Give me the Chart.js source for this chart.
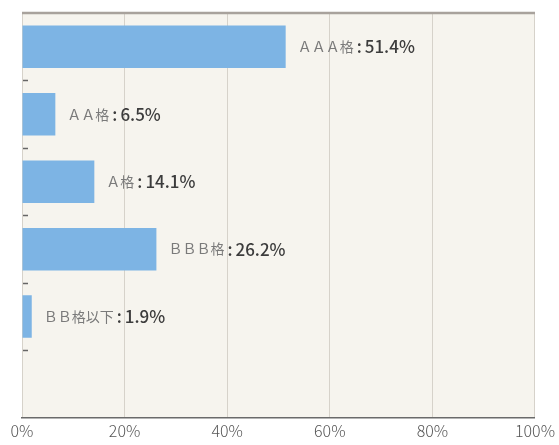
<!DOCTYPE html>
<html>
<head>
<meta charset="utf-8">
<script src="https://cdn.jsdelivr.net/npm/chart.js@4"></script>
<style>
  html, body { margin: 0; padding: 0; background: #fff; }
  #wrap { width: 559px; height: 445px; }
</style>
</head>
<body>
<div id="wrap"><canvas id="ratingChart" width="559" height="445"></canvas></div>
<script>
// Rating categories (last slot is empty, as in the original)
const categories = ['ＡＡＡ格', 'ＡＡ格', 'Ａ格', 'ＢＢＢ格', 'ＢＢ格以下', ''];
const shares = [51.4, 6.5, 14.1, 26.2, 1.9, null];
const xTicks = [0, 20, 40, 60, 80, 100];

const fontJP = '"Noto Sans CJK JP", "Noto Sans", sans-serif';

// plot background, top rule and small separators on the left edge
const framePlugin = {
  id: 'frame',
  beforeDraw(chart) {
    const { ctx, chartArea: a } = chart;
    ctx.save();
    ctx.fillStyle = '#f6f4ee';
    ctx.fillRect(a.left, a.top, a.right - a.left, a.bottom - a.top);
    ctx.restore();
  },
  afterDraw(chart) {
    const { ctx, chartArea: a } = chart;
    const y = chart.scales.y;
    ctx.save();
    ctx.strokeStyle = '#a8a29c';
    ctx.lineWidth = 2.5;
    ctx.beginPath();
    ctx.moveTo(a.left, a.top);
    ctx.lineTo(a.right, a.top);
    ctx.stroke();
    ctx.strokeStyle = '#666';
    ctx.lineWidth = 1.5;
    for (let i = 0; i < categories.length - 1; i++) {
      const yy = Math.round((y.getPixelForValue(i) + y.getPixelForValue(i + 1)) / 2) + 0.5;
      ctx.beginPath();
      ctx.moveTo(a.left + 1, yy);
      ctx.lineTo(a.left + 6, yy);
      ctx.stroke();
    }
    ctx.restore();
  }
};

// "ＡＡＡ格 : 51.4%" labels right of each bar
const labelPlugin = {
  id: 'barLabels',
  afterDatasetsDraw(chart) {
    const { ctx } = chart;
    const meta = chart.getDatasetMeta(0);
    ctx.save();
    ctx.textBaseline = 'middle';
    meta.data.forEach((bar, i) => {
      if (shares[i] == null) return;
      let x = bar.x + 12;
      ctx.font = '400 14px ' + fontJP;
      ctx.fillStyle = '#7a7a7a';
      ctx.fillText(categories[i], x, bar.y);
      x += ctx.measureText(categories[i]).width + 3;
      ctx.font = '500 17px ' + fontJP;
      ctx.fillStyle = '#3c3c3c';
      ctx.fillText(':', x, bar.y);
      x += ctx.measureText(':').width + 3;
      ctx.fillText(shares[i].toFixed(1) + '%', x, bar.y);
    });
    ctx.restore();
  }
};

new Chart(document.getElementById('ratingChart'), {
  type: 'bar',
  data: {
    labels: categories,
    datasets: [{
      data: shares,
      backgroundColor: '#7db4e4',
      borderWidth: 0,
      barPercentage: 0.63,
      categoryPercentage: 1.0
    }]
  },
  options: {
    indexAxis: 'y',
    responsive: false,
    animation: false,
    layout: { padding: { left: 22, right: 24, top: 13, bottom: 0 } },
    plugins: { legend: { display: false }, tooltip: { enabled: false } },
    scales: {
      x: {
        min: 0,
        max: 100,
        afterBuildTicks(scale) { scale.ticks = xTicks.map(v => ({ value: v })); },
        grid: { color: '#d6d2ca', lineWidth: 1, drawTicks: false },
        border: { color: '#6a6a6a', width: 1.5 },
        ticks: {
          padding: 4,
          color: '#555',
          font: { family: fontJP, size: 16, weight: '300' },
          maxRotation: 0,
          callback: v => v + '%'
        }
      },
      y: {
        display: false
      }
    }
  },
  plugins: [framePlugin, labelPlugin]
});
</script>
</body>
</html>
